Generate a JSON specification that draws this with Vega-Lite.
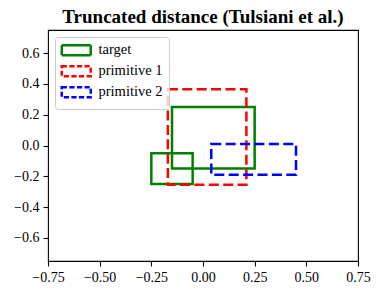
{
  "$schema": "https://vega.github.io/schema/vega-lite/v6.json",
  "autosize": {"type": "none"},
  "padding": {"left": 48, "top": 30, "right": 22, "bottom": 34},
  "width": 310,
  "height": 231,
  "background": "white",
  "title": {
    "text": "Truncated distance (Tulsiani et al.)",
    "font": "Liberation Serif",
    "fontSize": 19,
    "fontWeight": "bold",
    "color": "black",
    "anchor": "middle",
    "baseline": "bottom",
    "offset": 4,
    "dy": 20
  },
  "data": {
    "values": [
      {"name": "target", "x": -0.15, "x2": 0.25, "y": -0.15, "y2": 0.25},
      {"name": "target", "x": -0.25, "x2": -0.05, "y": -0.25, "y2": -0.05},
      {"name": "primitive 1", "x": -0.17, "x2": 0.21, "y": -0.255, "y2": 0.365},
      {"name": "primitive 2", "x": 0.04, "x2": 0.45, "y": -0.19, "y2": 0.01}
    ]
  },
  "encoding": {
    "x": {
      "field": "x", "type": "quantitative",
      "scale": {"domain": [-0.75, 0.75], "nice": false, "zero": false},
      "axis": {"title": null, "values": [-0.75, -0.5, -0.25, 0, 0.25, 0.5, 0.75], "format": ".2f", "labelFlush": false, "labelOverlap": false}
    },
    "x2": {"field": "x2"},
    "y": {
      "field": "y", "type": "quantitative",
      "scale": {"domain": [-0.75, 0.75], "nice": false, "zero": false},
      "axis": {"title": null, "values": [-0.6, -0.4, -0.2, 0, 0.2, 0.4, 0.6], "format": ".1f", "labelOverlap": false}
    },
    "y2": {"field": "y2"},
    "color": {
      "field": "name", "type": "nominal", "title": null,
      "scale": {"domain": ["target", "primitive 1", "primitive 2"], "range": ["green", "red", "blue"]},
      "legend": {
        "symbolType": "M-2.9,-1H2.9V1H-2.9Z",
        "encode": {
          "symbols": {
            "update": {
              "strokeDash": {"signal": "datum.value === 'target' ? [1, 0] : [5.2, 2.4]"}
            }
          }
        }
      }
    }
  },
  "layer": [
    {
      "transform": [{"filter": "datum.name === 'target'"}],
      "mark": {"type": "rect", "filled": false, "strokeWidth": 2.5}
    },
    {
      "transform": [{"filter": "datum.name !== 'target'"}],
      "mark": {"type": "rect", "filled": false, "strokeWidth": 2.5, "strokeDash": [10, 4.4]}
    }
  ],
  "config": {
    "view": {"stroke": "black", "strokeWidth": 1.1},
    "axis": {
      "domain": false,
      "grid": false,
      "labelFont": "Liberation Serif",
      "labelFontSize": 14,
      "labelColor": "black",
      "tickColor": "black",
      "tickSize": 5,
      "tickWidth": 1.1,
      "labelPadding": 4
    },
    "legend": {
      "orient": "top-left",
      "offset": 7,
      "padding": 6,
      "strokeColor": "#cccccc",
      "strokeWidth": 1,
      "fillColor": "rgba(255,255,255,0.8)",
      "cornerRadius": 3,
      "symbolSize": 100,
      "symbolStrokeWidth": 2.5,
      "symbolFillColor": "transparent",
      "symbolOffset": 8,
      "labelOffset": 15,
      "rowPadding": 0,
      "labelFont": "Liberation Serif",
      "labelFontSize": 14.5,
      "labelColor": "black"
    }
  }
}
